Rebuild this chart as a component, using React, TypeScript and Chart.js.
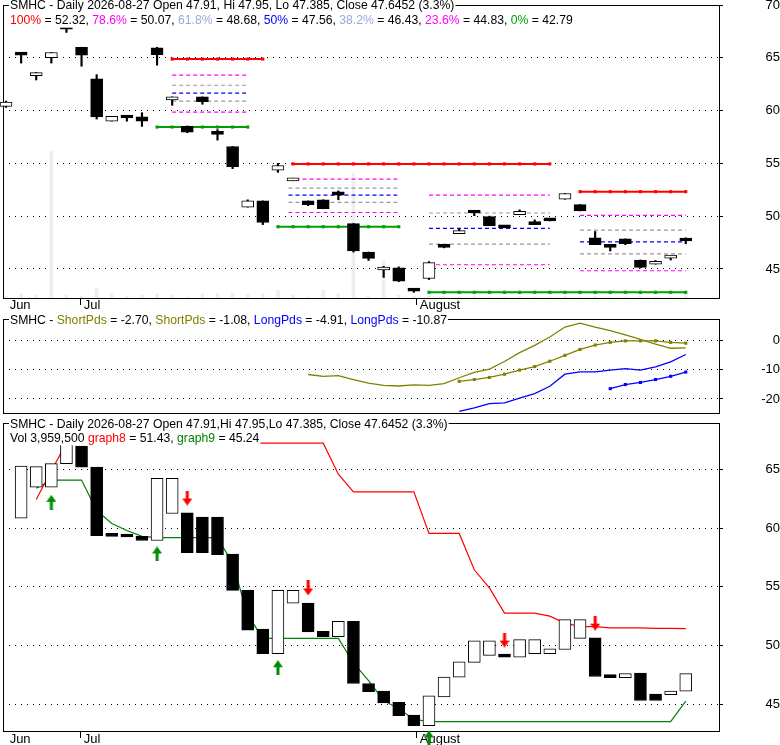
import { useEffect, useRef } from 'react';
import Chart from 'chart.js/auto';

const FONT = '"Liberation Sans", Arial, Helvetica, sans-serif';
const RED = '#ff0000';
const MAGENTA = '#ff00ff';
const BLUE = '#0000ff';
const FIB_GREEN = '#00a000';
const GREEN = '#008000';
const OLIVE = '#808000';
const GREY = '#999999';
const PALE = '#9aa9d9';

// daily candles, index 0 = first visible trading day
const open = [60.4, 65.5, 63.3, 65.0, 67.75, 66.0, 63.0, 59.0, 59.5, 59.4, 65.95, 61.0, 58.5, 61.3, 58.0, 56.6, 50.85, 51.45, 54.35, 53.35, 51.45, 51.55, 52.3, 49.3, 46.6, 44.9, 45.1, 43.05, 44.1, 47.2, 48.35, 50.35, 49.95, 49.0, 50.15, 49.45, 49.8, 51.6, 51.1, 47.95, 47.2, 47.85, 45.85, 45.45, 46.02, 47.91];
const high = [60.9, 65.5, 63.6, 65.5, 67.9, 66.0, 63.4, 59.45, 59.5, 59.8, 66.0, 61.3, 58.5, 61.3, 58.2, 56.6, 51.55, 51.45, 55.0, 53.6, 51.45, 51.55, 52.4, 49.3, 46.6, 45.25, 45.2, 43.1, 45.7, 47.3, 48.8, 50.45, 50.0, 49.0, 50.6, 49.65, 49.8, 52.15, 51.1, 48.55, 47.2, 47.85, 45.85, 45.8, 46.12, 47.95];
const low = [60.3, 64.5, 62.9, 64.5, 67.4, 64.2, 59.2, 59.0, 59.0, 58.5, 64.3, 60.5, 57.9, 60.6, 57.2, 54.5, 50.85, 49.2, 54.15, 53.35, 51.0, 50.7, 51.55, 46.6, 45.8, 44.2, 43.8, 42.79, 44.0, 47.0, 48.35, 50.05, 49.1, 48.9, 50.15, 49.2, 49.55, 51.6, 50.5, 47.3, 46.7, 47.3, 45.1, 45.45, 45.85, 47.385];
const close = [60.8, 65.25, 63.6, 65.5, 67.7, 65.25, 59.4, 59.45, 59.3, 59.0, 65.3, 61.3, 57.95, 60.85, 57.75, 54.7, 51.45, 49.4, 54.8, 53.6, 51.1, 50.7, 52.0, 46.7, 46.0, 45.1, 43.85, 42.9, 45.6, 47.05, 48.55, 50.3, 49.1, 48.9, 50.45, 49.2, 49.55, 52.15, 50.5, 47.3, 47.05, 47.4, 45.15, 45.65, 46.12, 47.6452];
// volume in millions
const volume = [2, 4, 3, 150, 3, 2, 10, 5, 2, 3, 4, 3, 1, 4, 5, 5, 4, 4, 8, 3, 1, 8, 4, 128, 2, 38, 3, 2, 2, 2, 1, 2, 1, 1, 2, 1, 1, 2, 1, 2, 1, 1, 2, 1, 1, 3.9595];

const monthTicks = [0, 4.9, 27.15];
const monthLabels = [' Jun', ' Jul', ' August'];

// fibonacci retracements
const fibNames = ['78.6%', '61.8%', '50%', '38.2%', '23.6%'];
const fibLevelColors = [MAGENTA, GREY, BLUE, GREY, MAGENTA];
const fibNameColors = [MAGENTA, PALE, BLUE, PALE, MAGENTA];
const fibLevelSpans = [[11, 15.9], [18.7, 25.9], [28, 36], [38, 45]];
const fibLevelValues = [
  [63.35, 62.4, 61.65, 60.9, 59.85],
  [53.5, 52.65, 52.0, 51.3, 50.35],
  [52.0, 50.3, 48.85, 47.35, 45.4],
  [50.07, 48.68, 47.56, 46.43, 44.83],
];
const fibHighSpans = [[11, 17], [19, 36], [38, 45]];
const fibHighValues = [64.88, 54.95, 52.32];
const fibLowSpans = [[10, 16], [18, 26], [28, 45]];
const fibLowValues = [58.44, 49.0, 42.79];

// oscillator panel
const shortFastStart = 20;
const shortFast = [-11.7, -12.3, -12.1, -13.4, -14.6, -15.4, -15.6, -15.2, -15.4, -14.8, -12.8, -11.0, -9.9, -7.3, -4.3, -1.8, 1.0, 4.4, 5.7, 4.4, 3.2, 1.7, 0.2, -1.4, -2.8, -2.70];
const shortSlowStart = 30;
const shortSlow = [-14.0, -13.4, -12.7, -11.6, -10.2, -9.0, -7.2, -5.2, -3.2, -1.7, -0.8, -0.3, -0.3, -0.3, -0.8, -1.08];
const longFastStart = 30;
const longFast = [-24.2, -23.0, -21.6, -21.3, -19.7, -18.2, -15.7, -11.6, -10.8, -10.8, -10.2, -9.7, -10.2, -9.1, -7.4, -4.91];
const longSlowStart = 40;
const longSlow = [-16.5, -15.1, -14.4, -13.4, -12.3, -10.87];

// lower panel bodies and stops
const barOpen = [null, 60.85, 63.5, 63.5, 65.5, 67.0, 65.2, 59.4, 59.4, 59.3, 58.95, 61.25, 61.3, 60.95, 60.95, 57.8, 54.7, 51.4, 49.3, 53.6, 53.6, 51.2, 50.75, 52.05, 46.75, 46.1, 45.15, 44.05, 43.15, 45.6, 47.3, 48.55, 49.15, 49.15, 49.0, 49.3, 49.3, 49.65, 50.6, 50.65, 47.4, 47.25, 47.65, 45.85, 45.8, 46.1];
const barClose = [null, 65.3, 65.25, 65.5, 67.8, 65.2, 59.35, 59.3, 59.25, 58.95, 64.25, 64.25, 57.9, 57.9, 57.75, 54.7, 51.3, 49.3, 54.7, 54.7, 51.15, 50.75, 52.05, 46.75, 46.05, 45.1, 44.0, 43.15, 45.7, 47.3, 48.6, 50.4, 50.4, 49.0, 50.5, 50.5, 49.7, 52.2, 52.2, 47.35, 47.25, 47.6, 45.3, 45.3, 46.1, 47.6];
const graph8 = [null, null, 62.45, 64.9, 67.25, 67.25, 67.25, 67.25, 67.25, 67.25, 67.25, 67.25, 67.25, 67.25, 67.25, 67.25, 67.25, 67.25, 67.25, 67.25, 67.25, 67.25, 64.6, 63.1, 63.1, 63.1, 63.1, 63.1, 59.55, 59.55, 59.55, 56.45, 54.9, 52.75, 52.75, 52.75, 52.5, 51.9, 51.6, 51.6, 51.5, 51.5, 51.5, 51.45, 51.45, 51.43];
const graph9 = [null, null, 63.4, 64.1, 64.1, 64.1, 61.5, 60.4, 59.8, 59.3, 59.2, 59.2, 59.2, 59.2, 59.2, 57.0, 52.6, 50.6, 50.6, 50.6, 50.6, 50.6, 50.6, 48.5, 47.0, 45.3, 44.6, 43.7, 43.5, 43.5, 43.5, 43.5, 43.5, 43.5, 43.5, 43.5, 43.5, 43.5, 43.5, 43.5, 43.5, 43.5, 43.5, 43.5, 43.5, 45.24];
const buyIdx = [3, 10, 18, 28];
const buyVal = [62.2, 57.8, 48.1, 42.1];
const sellIdx = [12, 20, 33, 39];
const sellVal = [62.57, 54.9, 50.46, 51.9];

type Seg = [string, string];

const span = (a: number, b: number) => {
  const out: number[] = [];
  for (let i = a; i <= b; i++) out.push(i);
  return out;
};

function panelPlugin(lines: Seg[][], offsets: number[]) {
  return {
    id: 'panelFrame',
    beforeDatasetsDraw(chart: any) {
      const { ctx, chartArea: a } = chart;
      ctx.save();
      ctx.strokeStyle = '#000';
      ctx.lineWidth = 1;
      ctx.strokeRect(a.left + 0.5, a.top + 0.5, a.right - a.left, a.bottom - a.top);
      ctx.restore();
    },
    afterDraw(chart: any) {
      const { ctx, chartArea: a } = chart;
      ctx.save();
      ctx.font = `12.2px ${FONT}`;
      ctx.textBaseline = 'middle';
      lines.forEach((segs, i) => {
        const y = a.top + offsets[i];
        let x = a.left + 7;
        const w = segs.reduce((s, [t]) => s + ctx.measureText(t).width, 0);
        ctx.fillStyle = '#fff';
        ctx.fillRect(x - 1, y - 7, w + 2, 14);
        for (const [t, c] of segs) {
          ctx.fillStyle = c;
          ctx.fillText(t, x, y);
          x += ctx.measureText(t).width;
        }
      });
      ctx.restore();
    },
  };
}

function arrow(color: string, up: boolean) {
  const c = document.createElement('canvas');
  c.width = 10;
  c.height = 15;
  const g = c.getContext('2d')!;
  g.fillStyle = color;
  g.beginPath();
  const pts = [[5, 0], [10, 7], [6.5, 7], [6.5, 15], [3.5, 15], [3.5, 7], [0, 7]];
  pts.forEach(([px, py], k) => {
    const yy = up ? py : 15 - py;
    if (k === 0) g.moveTo(px, yy);
    else g.lineTo(px, yy);
  });
  g.closePath();
  g.fill();
  return c;
}

function scales(yMin: number, yMax: number, yTicks: number[], labelPad: number, showX: boolean, xHeight: number, xPad: number) {
  return {
    x: {
      type: 'linear',
      min: -0.2,
      max: 47.2,
      offset: false,
      display: showX,
      afterBuildTicks: (s: any) => { s.ticks = monthTicks.map((v) => ({ value: v })); },
      afterFit: (s: any) => {
        s.height = xHeight;
        s.paddingLeft = 0;
        s.paddingRight = 0;
      },
      ticks: {
        callback: (_v: any, i: number) => monthLabels[i],
        align: 'start',
        padding: xPad,
        maxRotation: 0,
        autoSkip: false,
        color: '#000',
        font: { family: FONT, size: 13 },
      },
      grid: {
        offset: false,
        drawOnChartArea: false,
        drawTicks: true,
        tickLength: 7,
        tickWidth: 1,
        tickColor: (c: any) => (c.index === 0 ? 'rgba(0,0,0,0)' : '#000'),
      },
      border: { display: false },
    },
    y: {
      position: 'right',
      min: yMin,
      max: yMax,
      afterBuildTicks: (s: any) => { s.ticks = yTicks.map((v) => ({ value: v })); },
      afterFit: (s: any) => {
        s.width = 61;
        s.paddingTop = 0;
        s.paddingBottom = 0;
      },
      ticks: { color: '#000', padding: labelPad, crossAlign: 'far', font: { family: FONT, size: 13 } },
      grid: { color: '#000', lineWidth: 1, tickLength: 4, tickColor: '#000', tickBorderDash: [] },
      border: { display: false, dash: [1, 5] },
    },
  };
}

const lineDs = (pts: { x: number; y: number }[], color: string, width: number, extra: any = {}) => ({
  type: 'line',
  data: pts,
  borderColor: color,
  backgroundColor: color,
  borderWidth: width,
  pointRadius: 0,
  tension: 0,
  order: 6,
  ...extra,
});

const marked = { pointStyle: 'rect', pointRadius: 2.2, pointBorderWidth: 0 };

function priceConfig(): any {
  const n = close.length - 1;
  const pct = ((close[n] / close[n - 1] - 1) * 100).toFixed(1);
  const lastSet = fibLevelValues.length - 1;
  const fibText: Seg[] = [['100%', RED], [` = ${fibHighValues[fibHighValues.length - 1].toFixed(2)}, `, '#000']];
  fibNames.forEach((nm, j) => {
    fibText.push([nm, fibNameColors[j]]);
    fibText.push([` = ${fibLevelValues[lastSet][j].toFixed(2)}, `, '#000']);
  });
  fibText.push(['0%', FIB_GREEN]);
  fibText.push([` = ${fibLowValues[fibLowValues.length - 1].toFixed(2)}`, '#000']);
  const title: Seg[] = [[`SMHC - Daily 2026-08-27 Open ${open[n]}, Hi ${high[n]}, Lo ${low[n]}, Close ${close[n]} (${pct}%)`, '#000']];

  const datasets: any[] = [
    {
      type: 'bar',
      yAxisID: 'yv',
      data: volume.map((v, i) => ({ x: i, y: v })),
      backgroundColor: '#eeeeee',
      barThickness: 3,
      grouped: false,
      order: 10,
    },
  ];
  fibHighSpans.forEach(([a, b], k) => {
    datasets.push(lineDs(span(a, b).map((i) => ({ x: i, y: fibHighValues[k] })), RED, 2, marked));
  });
  fibLowSpans.forEach(([a, b], k) => {
    datasets.push(lineDs(span(a, b).map((i) => ({ x: i, y: fibLowValues[k] })), FIB_GREEN, 2, marked));
  });
  fibLevelSpans.forEach(([a, b], k) => {
    fibLevelValues[k].forEach((v, j) => {
      datasets.push(lineDs([{ x: a, y: v }, { x: b, y: v }], fibLevelColors[j], 1.2, { borderDash: [4, 3] }));
    });
  });
  datasets.push({
    type: 'bar',
    data: high.map((h, i) => ({ x: i, y: [low[i], h] })),
    backgroundColor: '#000',
    barThickness: 1.5,
    grouped: false,
    order: 3,
  });
  datasets.push({
    type: 'bar',
    data: open.map((o, i) => ({ x: i, y: [o, close[i]] })),
    backgroundColor: open.map((o, i) => (close[i] >= o ? '#fff' : '#000')),
    borderColor: '#000',
    borderWidth: 1,
    borderSkipped: false,
    barThickness: 12,
    minBarLength: 3,
    grouped: false,
    clip: false,
    order: 2,
  });

  const sc: any = scales(42.25, 70, [45, 50, 55, 60, 65, 70], 38.5, true, 18, -7);
  sc.yv = { display: false, min: 0, max: 300 };
  return {
    type: 'bar',
    data: { datasets },
    options: {
      animation: false,
      responsive: false,
      events: [],
      layout: { padding: { left: 3, top: 5, right: 0, bottom: 0 }, autoPadding: false },
      plugins: { legend: { display: false }, tooltip: { enabled: false } },
      scales: sc,
    },
    plugins: [panelPlugin([title, fibText], [1, 15.7])],
  };
}

function oscConfig(): any {
  const pts = (arr: number[], start: number) => arr.map((v, k) => ({ x: start + k, y: v }));
  const last = (arr: number[]) => arr[arr.length - 1].toFixed(2);
  const title: Seg[] = [
    ['SMHC - ', '#000'], ['ShortPds', OLIVE], [` = ${last(shortFast)}, `, '#000'],
    ['ShortPds', OLIVE], [` = ${last(shortSlow)}, `, '#000'],
    ['LongPds', BLUE], [` = ${last(longFast)}, `, '#000'],
    ['LongPds', BLUE], [` = ${last(longSlow)}`, '#000'],
  ];
  return {
    type: 'line',
    data: {
      datasets: [
        lineDs(pts(shortFast, shortFastStart), OLIVE, 1.3),
        lineDs(pts(shortSlow, shortSlowStart), OLIVE, 1.3, marked),
        lineDs(pts(longFast, longFastStart), BLUE, 1.3),
        lineDs(pts(longSlow, longSlowStart), BLUE, 1.3, marked),
      ],
    },
    options: {
      animation: false,
      responsive: false,
      events: [],
      layout: { padding: { left: 3, top: 9, right: 0, bottom: 5 }, autoPadding: false },
      plugins: { legend: { display: false }, tooltip: { enabled: false } },
      scales: scales(-24.75, 7.12, [-20, -10, 0], 34.2, false, 0, 0),
    },
    plugins: [panelPlugin([title], [1.7])],
  };
}

function stopConfig(): any {
  const n = close.length - 1;
  const pct = ((close[n] / close[n - 1] - 1) * 100).toFixed(1);
  const pts = (arr: (number | null)[]) =>
    arr.map((v, i) => ({ x: i, y: v })).filter((p) => p.y !== null) as { x: number; y: number }[];
  const title1: Seg[] = [[`SMHC - Daily 2026-08-27 Open ${open[n]},Hi ${high[n]},Lo ${low[n]}, Close ${close[n]} (${pct}%)`, '#000']];
  const title2: Seg[] = [
    [`Vol ${Math.round(volume[n] * 1e6).toLocaleString('en-US')} `, '#000'],
    ['graph8', RED], [` = ${(graph8[n] as number).toFixed(2)}, `, '#000'],
    ['graph9', GREEN], [` = ${(graph9[n] as number).toFixed(2)}`, '#000'],
  ];
  const bodies = barOpen
    .map((o, i) => ({ o, c: barClose[i], i }))
    .filter((b) => b.o !== null && b.c !== null) as { o: number; c: number; i: number }[];
  return {
    type: 'bar',
    data: {
      datasets: [
        lineDs(pts(graph8), RED, 1.2),
        lineDs(pts(graph9), GREEN, 1.2),
        {
          type: 'bar',
          data: bodies.map((b) => ({ x: b.i, y: [b.o, b.c] })),
          backgroundColor: bodies.map((b) => (b.c >= b.o ? '#fff' : '#000')),
          borderColor: '#000',
          borderWidth: 1,
          borderSkipped: false,
          barThickness: 12,
          minBarLength: 3,
          grouped: false,
          order: 2,
        },
        {
          type: 'line',
          data: buyIdx.map((x, k) => ({ x, y: buyVal[k] })),
          showLine: false,
          pointStyle: arrow('#008c00', true),
          pointRadius: 8,
          clip: false,
          order: 0,
        },
        {
          type: 'line',
          data: sellIdx.map((x, k) => ({ x, y: sellVal[k] })),
          showLine: false,
          pointStyle: arrow(RED, false),
          pointRadius: 8,
          clip: false,
          order: 0,
        },
      ],
    },
    options: {
      animation: false,
      responsive: false,
      events: [],
      layout: { padding: { left: 3, top: 11, right: 0, bottom: 0 }, autoPadding: false },
      plugins: { legend: { display: false }, tooltip: { enabled: false } },
      scales: scales(42.7, 68.97, [45, 50, 55, 60, 65], 38.5, true, 14, -6),
    },
    plugins: [panelPlugin([title1, title2], [2, 15.3])],
  };
}

export default function App() {
  const priceRef = useRef<HTMLCanvasElement>(null);
  const oscRef = useRef<HTMLCanvasElement>(null);
  const stopRef = useRef<HTMLCanvasElement>(null);

  useEffect(() => {
    const charts = [
      new Chart(priceRef.current as HTMLCanvasElement, priceConfig()),
      new Chart(oscRef.current as HTMLCanvasElement, oscConfig()),
      new Chart(stopRef.current as HTMLCanvasElement, stopConfig()),
    ];
    return () => charts.forEach((c) => c.destroy());
  }, []);

  return (
    <div style={{ position: 'absolute', left: 0, top: 0, width: 780, height: 745, background: '#fff', overflow: 'hidden' }}>
      <canvas ref={priceRef} width={780} height={316} style={{ position: 'absolute', left: 0, top: 0 }} />
      <canvas ref={oscRef} width={780} height={108} style={{ position: 'absolute', left: 0, top: 310 }} />
      <canvas ref={stopRef} width={780} height={333} style={{ position: 'absolute', left: 0, top: 412 }} />
    </div>
  );
}
